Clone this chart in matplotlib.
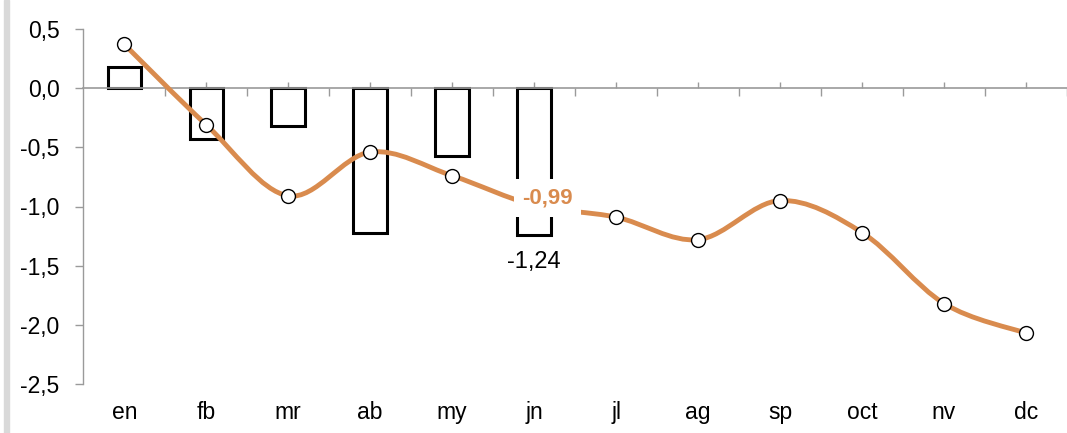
import matplotlib
matplotlib.use("Agg")
import matplotlib.pyplot as plt
from matplotlib.path import Path
from matplotlib.patches import PathPatch, Rectangle
import numpy as np

months = ["en", "fb", "mr", "ab", "my", "jn", "jl", "ag", "sp", "oct", "nv", "dc"]
bar_values = [0.18, -0.43, -0.32, -1.22, -0.57, -1.24]
line_values = [0.37, -0.31, -0.91, -0.54, -0.74, -0.99, -1.09, -1.28, -0.95, -1.22, -1.82, -2.07]
yticks = [0.5, 0.0, -0.5, -1.0, -1.5, -2.0, -2.5]
ytick_labels = ["0,5", "0,0", "-0,5", "-1,0", "-1,5", "-2,0", "-2,5"]

ORANGE = "#D98B4E"
GREY = "#9A9A9A"

plt.rcParams["font.family"] = ["Liberation Sans", "DejaVu Sans"]

W, H = 1067, 433
fig = plt.figure(figsize=(W / 100, H / 100), dpi=100)
fig.patches.append(Rectangle((4 / W, 0), 5 / W, 1, transform=fig.transFigure,
                             color="#D9D9D9", zorder=0))

left_px = 83.35
ax = fig.add_axes([left_px / W, (H - 384) / H, 1 - left_px / W, (384 - 29) / H])
ax.set_xlim(-0.5, (W - 125) / 83.3)
ax.set_ylim(-2.5, 0.5)

x = np.arange(len(months))
xb = np.arange(len(bar_values))

ax.bar(xb, bar_values, width=0.41, facecolor="white", edgecolor="black",
       linewidth=2.2, zorder=2)

# smoothed line (Catmull-Rom style bezier through the data points)
pts = np.column_stack([x, line_values]).astype(float)
ext = np.vstack([pts[0], pts, pts[-1]])
verts = [tuple(pts[0])]
codes = [Path.MOVETO]
for i in range(len(pts) - 1):
    p0, p1, p2, p3 = ext[i], ext[i + 1], ext[i + 2], ext[i + 3]
    c1 = p1 + (p2 - p0) / 6.0
    c2 = p2 - (p3 - p1) / 6.0
    verts += [tuple(c1), tuple(c2), tuple(p2)]
    codes += [Path.CURVE4] * 3
ax.add_patch(PathPatch(Path(verts, codes), facecolor="none", edgecolor=ORANGE,
                       linewidth=3.5, zorder=3, capstyle="round"))
ax.plot(x, line_values, linestyle="none", marker="o", markersize=10,
        markerfacecolor="white", markeredgecolor="black", markeredgewidth=1.0, zorder=4)

# labels
ax.text(5.16, line_values[5] + 0.06, "-0,99", color=ORANGE, fontsize=16, fontweight="bold",
        ha="center", va="center", zorder=5,
        bbox=dict(facecolor="white", edgecolor="none", pad=6))
ax.text(5, bar_values[5] - 0.23, "-1,24", color="black", fontsize=17,
        ha="center", va="center", zorder=5)

# spines / axes
for s in ["top", "right"]:
    ax.spines[s].set_visible(False)
ax.spines["left"].set_color(GREY)
ax.spines["left"].set_linewidth(1.0)
ax.spines["bottom"].set_position(("data", 0))
ax.spines["bottom"].set_color(GREY)
ax.spines["bottom"].set_linewidth(1.2)

ax.set_yticks(yticks)
ax.set_yticklabels(ytick_labels, fontsize=16.5)
ax.tick_params(axis="y", direction="out", length=6, width=1, color=GREY, pad=11)

ax.set_xticks(x)
ax.set_xticklabels([])
ax.set_xticks(x + 0.5, minor=True)
ax.tick_params(axis="x", which="major", direction="in", length=4, width=1, color=GREY)
ax.tick_params(axis="x", which="minor", direction="out", length=5.5, width=1, color=GREY)

sec = ax.secondary_xaxis(0.0)
sec.set_xticks(x)
sec.set_xticklabels(months, fontsize=16.5)
sec.tick_params(length=0, pad=12)
sec.spines["bottom"].set_visible(False)

fig.savefig("out.png", dpi=100)
